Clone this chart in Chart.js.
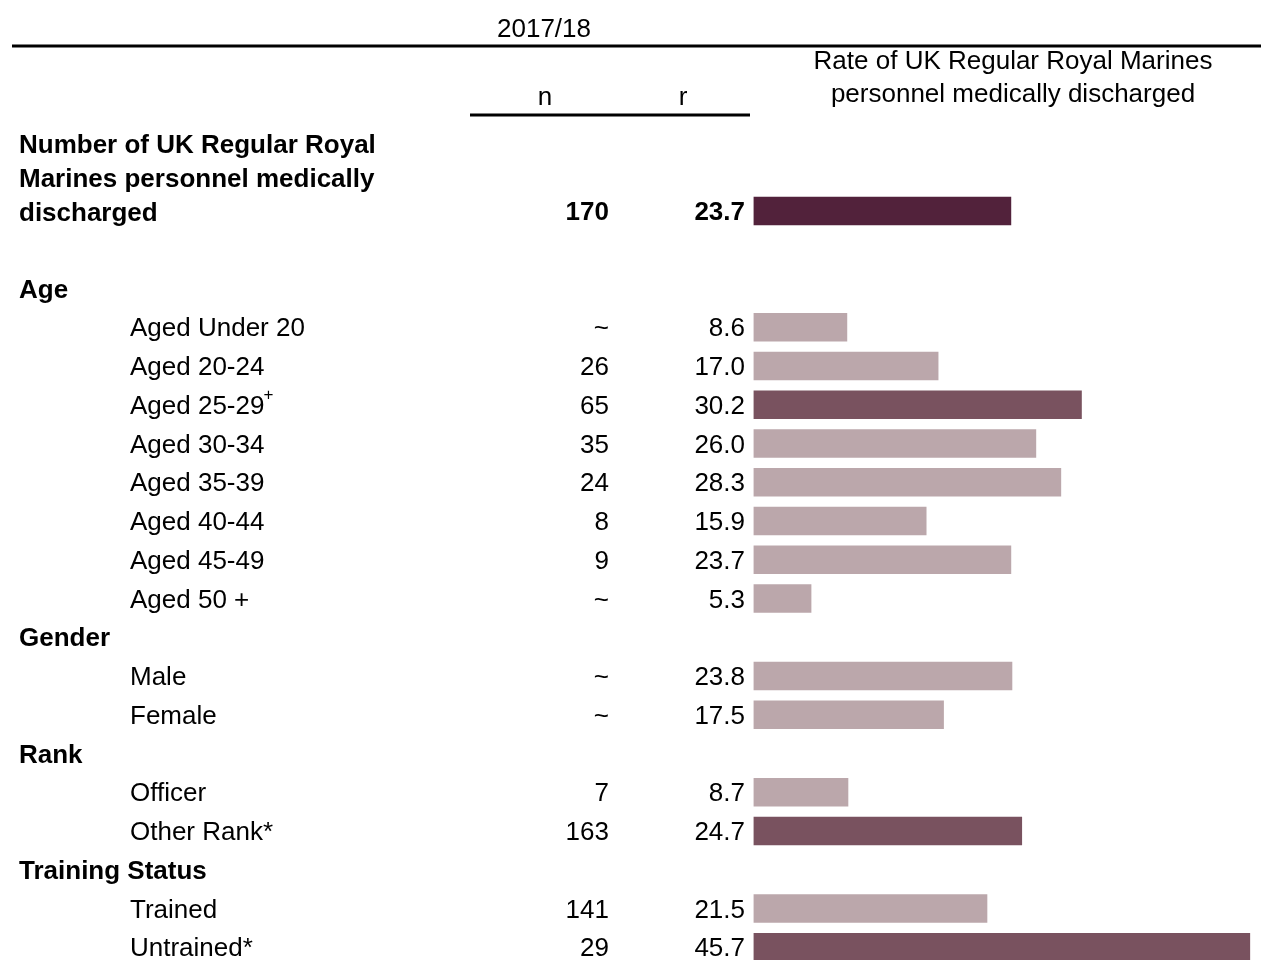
<!DOCTYPE html>
<html>
<head>
<meta charset="utf-8">
<script src="https://cdn.jsdelivr.net/npm/chart.js@4"></script>
<style>
  html, body { margin: 0; padding: 0; background: #fff; overflow: hidden; }
  canvas { display: block; }
</style>
</head>
<body>
<canvas id="chart" width="1261" height="1000"></canvas>
<script>
// rows, top to bottom
const rowLabels = [
  "Number of UK Regular Royal Marines personnel medically discharged",
  "",
  "Age",
  "Aged Under 20",
  "Aged 20-24",
  "Aged 25-29",
  "Aged 30-34",
  "Aged 35-39",
  "Aged 40-44",
  "Aged 45-49",
  "Aged 50 +",
  "Gender",
  "Male",
  "Female",
  "Rank",
  "Officer",
  "Other Rank*",
  "Training Status",
  "Trained",
  "Untrained*"
];
// row kinds: total / blank / header / item
const rowKinds = ["total", "blank", "header", "item", "item", "item", "item", "item", "item", "item", "item",
  "header", "item", "item", "header", "item", "item", "header", "item", "item"];
const nValues = ["170", "", "", "~", "26", "65", "35", "24", "8", "9", "~", "", "~", "~", "", "7", "163", "", "141", "29"];
const rValues = [23.7, null, null, 8.6, 17.0, 30.2, 26.0, 28.3, 15.9, 23.7, 5.3, null, 23.8, 17.5, null, 8.7, 24.7, null, 21.5, 45.7];
// rows that differ significantly from the total
const significant = [false, false, false, false, false, true, false, false, false, false, false,
  false, false, false, false, false, true, false, false, true];

const colTotal = "#52223B";
const colSig = "#79525F";
const colOther = "#BBA7AB";

const barColours = rValues.map((v, i) =>
  i === 0 ? colTotal : significant[i] ? colSig : colOther
);

const FONT = '"Liberation Sans", Arial, sans-serif';

const tablePlugin = {
  id: "tableText",
  afterDraw(chart) {
    const ctx = chart.ctx;
    const y = chart.scales.y;
    ctx.save();
    ctx.fillStyle = "#000";
    ctx.strokeStyle = "#000";

    // header rules
    ctx.lineWidth = 3;
    ctx.beginPath();
    ctx.moveTo(12, 46);
    ctx.lineTo(1261, 46);
    ctx.moveTo(470, 115);
    ctx.lineTo(750, 115);
    ctx.stroke();

    ctx.textBaseline = "middle";
    ctx.font = "26px " + FONT;
    ctx.textAlign = "center";
    ctx.fillText("2017/18", 544, 30);
    ctx.fillText("n", 545, 98);
    ctx.fillText("r", 683, 98);
    ctx.fillText("Rate of UK Regular Royal Marines", 1013, 62);
    ctx.fillText("personnel medically discharged", 1013, 95);

    rowLabels.forEach((label, i) => {
      const py = y.getPixelForValue(i) + 2;
      const kind = rowKinds[i];
      if (kind === "blank") return;
      if (kind === "total") {
        ctx.font = "bold 26px " + FONT;
        ctx.textAlign = "left";
        ctx.fillText("Number of UK Regular Royal", 19, py - 67);
        ctx.fillText("Marines personnel medically", 19, py - 33);
        ctx.fillText("discharged", 19, py + 1);
      } else if (kind === "header") {
        ctx.font = "bold 26px " + FONT;
        ctx.textAlign = "left";
        ctx.fillText(label, 19, py);
      } else {
        ctx.font = "26px " + FONT;
        ctx.textAlign = "left";
        ctx.fillText(label, 130, py);
        if (label === "Aged 25-29") {
          const w = ctx.measureText(label).width;
          ctx.font = "17px " + FONT;
          ctx.fillText("+", 129 + w, py - 11);
          ctx.font = "26px " + FONT;
        }
      }
      ctx.font = (kind === "total" ? "bold " : "") + "26px " + FONT;
      ctx.textAlign = "right";
      if (nValues[i]) ctx.fillText(nValues[i], 609, py);
      if (rValues[i] !== null) ctx.fillText(rValues[i].toFixed(1), 745, py);
    });
    ctx.restore();
  }
};

new Chart(document.getElementById("chart"), {
  type: "bar",
  data: {
    labels: rowLabels.map((l, i) => String(i)),
    datasets: [{
      data: rValues,
      backgroundColor: barColours,
      borderWidth: 0,
      barThickness: 28
    }]
  },
  options: {
    indexAxis: "y",
    responsive: false,
    animation: false,
    devicePixelRatio: 1,
    layout: { padding: { left: 753.5, right: 0, top: 191.6, bottom: 33.4 } },
    plugins: { legend: { display: false }, tooltip: { enabled: false } },
    scales: {
      x: { display: false, min: 0, max: 46.73 },
      y: { display: false }
    }
  },
  plugins: [tablePlugin]
});
</script>
</body>
</html>
